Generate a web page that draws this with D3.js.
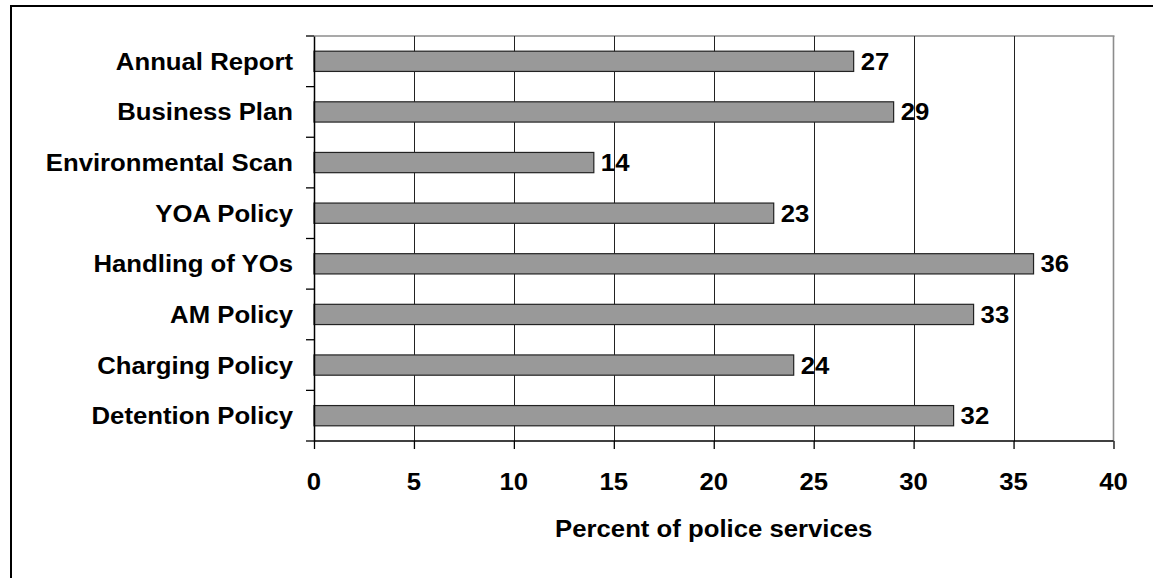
<!DOCTYPE html>
<html lang="en">
  <head>
    <meta charset="utf-8">
    <title>Percent of police services</title>
    <script src="https://d3js.org/d3.v7.min.js"></script>
    <style>
      body { margin: 0; background: #fff; }
      text { font-family: "Liberation Sans", Arial, sans-serif; font-weight: bold; fill: #000; }
    </style>
  </head>
  <body>
    <div id="chart"></div>
    <script>
      // chart data
      var categories = ["Annual Report", "Business Plan", "Environmental Scan", "YOA Policy",
                        "Handling of YOs", "AM Policy", "Charging Policy", "Detention Policy"];
      var values = [27, 29, 14, 23, 36, 33, 24, 32];
      var xTicks = [0, 5, 10, 15, 20, 25, 30, 35, 40];
      var xTitle = "Percent of police services";

      var width = 1153, height = 578;
      var stretch = 1.05; // text in the original looks slightly widened

      var svg = d3.select("#chart").append("svg")
        .attr("width", width)
        .attr("height", height);

      // outer frame (runs off the right and bottom edges)
      svg.append("rect")
        .attr("x", 11).attr("y", 6)
        .attr("width", 1300).attr("height", 800)
        .attr("fill", "none")
        .attr("stroke", "#000")
        .attr("stroke-width", 2);

      var xScale = d3.scaleLinear().domain([0, 40]).range([314, 1113.5]);
      var yScale = d3.scaleBand().domain(categories).range([36, 441]).padding(0);

      var addText = function(g, x, y, str, anchor) {
        return g.append("text")
          .attr("transform", "translate(" + x + "," + y + ") scale(" + stretch + ",1)")
          .attr("text-anchor", anchor)
          .style("font-size", "24.5px")
          .text(str);
      };

      // plot border (grey top and right)
      svg.append("line")
        .attr("x1", xScale(0)).attr("x2", xScale(40) + 1)
        .attr("y1", 36).attr("y2", 36)
        .attr("stroke", "#8c8c8c").attr("stroke-width", 1.6);
      svg.append("line")
        .attr("x1", xScale(40)).attr("x2", xScale(40))
        .attr("y1", 36).attr("y2", 441)
        .attr("stroke", "#8c8c8c").attr("stroke-width", 1.6);

      // vertical gridlines
      svg.selectAll(".grid")
        .data(xTicks.filter(function(d) { return d > 0 && d < 40; }))
        .enter().append("line")
          .attr("class", "grid")
          .attr("x1", function(d) { return Math.round(xScale(d)) + 0.5; })
          .attr("x2", function(d) { return Math.round(xScale(d)) + 0.5; })
          .attr("y1", 36).attr("y2", 441)
          .attr("stroke", "#222").attr("stroke-width", 1);

      // bars
      var bh = yScale.bandwidth() * 0.4;
      svg.selectAll(".bar")
        .data(values)
        .enter().append("rect")
          .attr("class", "bar")
          .attr("x", xScale(0))
          .attr("y", function(d, i) { return yScale(categories[i]) + (yScale.bandwidth() - bh) / 2; })
          .attr("width", function(d) { return xScale(d) - xScale(0); })
          .attr("height", bh)
          .attr("fill", "#999")
          .attr("stroke", "#222")
          .attr("stroke-width", 1.2);

      // value labels
      values.forEach(function(d, i) {
        var cy = yScale(categories[i]) + yScale.bandwidth() / 2;
        addText(svg, xScale(d) + 7, cy + 8.5, d, "start");
      });

      // y axis
      var yAxis = d3.axisLeft(yScale).tickSize(0).tickFormat("");
      svg.append("g")
        .attr("transform", "translate(" + xScale(0) + ",0)")
        .call(yAxis)
        .call(function(g) { g.select(".domain").attr("stroke", "#000").attr("stroke-width", 1.5); });

      // y ticks sit between the categories
      var bounds = categories.map(function(c) { return yScale(c); }).concat([441]);
      svg.selectAll(".ytick")
        .data(bounds)
        .enter().append("line")
          .attr("class", "ytick")
          .attr("x1", xScale(0) - 8).attr("x2", xScale(0))
          .attr("y1", function(d) { return d; }).attr("y2", function(d) { return d; })
          .attr("stroke", "#000").attr("stroke-width", 1.3);

      categories.forEach(function(c) {
        var cy = yScale(c) + yScale.bandwidth() / 2;
        addText(svg, 293, cy + 8.5, c, "end");
      });

      // x axis
      var xAxis = d3.axisBottom(xScale).tickValues(xTicks).tickSize(8).tickFormat("");
      svg.append("g")
        .attr("transform", "translate(0,441)")
        .call(xAxis)
        .call(function(g) {
          g.select(".domain").attr("stroke", "#000").attr("stroke-width", 1.5).attr("d", "M" + xScale(0) + ",0H" + xScale(40));
          g.selectAll(".tick line").attr("stroke", "#000").attr("stroke-width", 1.3);
        });

      xTicks.forEach(function(t) {
        addText(svg, xScale(t), 490, t, "middle");
      });

      // x axis title
      addText(svg, (xScale(0) + xScale(40)) / 2, 537, xTitle, "middle");
    </script>
  </body>
</html>
